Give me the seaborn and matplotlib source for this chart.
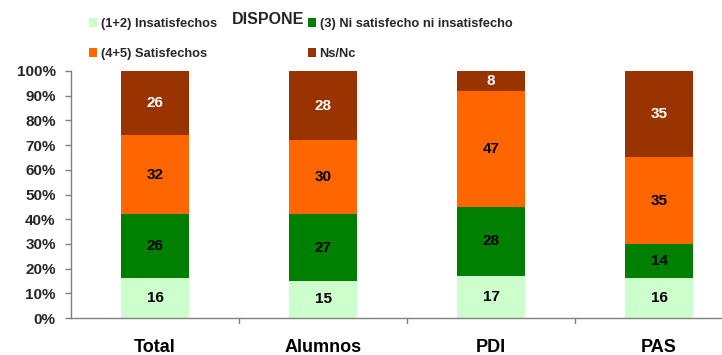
import numpy as np
import pandas as pd
import matplotlib
matplotlib.use("Agg")
import matplotlib.pyplot as plt
import seaborn as sns
from matplotlib.patches import Patch

categories = ["Total", "Alumnos", "PDI", "PAS"]
series_names = ["(1+2) Insatisfechos", "(3) Ni satisfecho ni insatisfecho",
                "(4+5) Satisfechos", "Ns/Nc"]
insatisfechos = [16, 15, 17, 16]
ni_ni = [26, 27, 28, 14]
satisfechos = [32, 30, 47, 35]
ns_nc = [26, 28, 8, 35]
colors = ["#CCFFCC", "#008000", "#FF6600", "#993300"]
label_colors = ["black", "black", "black", "white"]
y_ticks = [0, 10, 20, 30, 40, 50, 60, 70, 80, 90, 100]

sns.set_theme(style="white")
plt.rcParams["font.family"] = ["Liberation Sans", "DejaVu Sans"]
plt.rcParams["font.weight"] = "bold"

layers = [insatisfechos, ni_ni, satisfechos, ns_nc]
df = pd.DataFrame({"cat": categories})
cum = np.zeros(len(categories))
cums = []
for name, vals in zip(series_names, layers):
    cum = cum + np.array(vals, dtype=float)
    cums.append(cum.copy())
    df[name] = cum.copy()

fig = plt.figure(figsize=(7.22, 3.55), dpi=100)
ax = fig.add_axes([71 / 722, 1 - 318 / 355, 1 - 71 / 722, (318 - 71) / 355])

# Stacked bars: draw cumulative totals from the top layer down
for i in range(len(layers) - 1, -1, -1):
    sns.barplot(data=df, x="cat", y=series_names[i], color=colors[i],
                width=0.41, saturation=1, ax=ax, linewidth=0, errorbar=None)

# Segment value labels
for i, vals in enumerate(layers):
    for j, v in enumerate(vals):
        center = cums[i][j] - v / 2
        ax.text(j, center, f"{v}", ha="center", va="center",
                fontsize=11, fontweight="bold", color=label_colors[i])

ax.set_xlim(-0.5, 3.375)
ax.set_ylim(0, 100)
ax.set_yticks(y_ticks)
ax.set_yticklabels([f"{t}%" for t in y_ticks], fontsize=11, fontweight="bold")
ax.set_xticks(range(len(categories)))
ax.set_xticklabels(categories, fontsize=13, fontweight="bold")
ax.set_xlabel("")
ax.set_ylabel("")
ax.tick_params(axis="x", length=0, pad=15, colors="black")
ax.tick_params(axis="y", direction="out", length=4, width=1, color="#808080",
               left=True, pad=7)
# Category separator ticks on the x axis
for b in [0.5, 1.5, 2.5]:
    ax.plot([b, b], [0, -2.0], color="#808080", lw=1, clip_on=False)

for s in ["top", "right"]:
    ax.spines[s].set_visible(False)
ax.spines["left"].set_color("#808080")
ax.spines["bottom"].set_color("#808080")
ax.spines["left"].set_linewidth(1)
ax.spines["bottom"].set_linewidth(1)

# Legend in two columns, each placed on its own
handles = [Patch(facecolor=c, edgecolor="none") for c in colors]
leg_kw = dict(ncol=1, loc="upper left", frameon=False,
              prop={"family": "Liberation Sans", "weight": "bold", "size": 9.3},
              handlelength=0.6, handleheight=0.75, handletextpad=0.3,
              labelspacing=1.35, borderpad=0, borderaxespad=0)
leg1 = fig.legend([handles[0], handles[2]], [series_names[0], series_names[2]],
                  bbox_to_anchor=(89 / 722, 1 - 18 / 355), **leg_kw)
leg2 = fig.legend([handles[1], handles[3]], [series_names[1], series_names[3]],
                  bbox_to_anchor=(308 / 722, 1 - 18 / 355), **leg_kw)
fig.text(268 / 722, 1 - 19 / 355, "DISPONE", ha="center", va="center",
         fontsize=11.5, fontweight="bold")

fig.savefig("out.png", dpi=100)
